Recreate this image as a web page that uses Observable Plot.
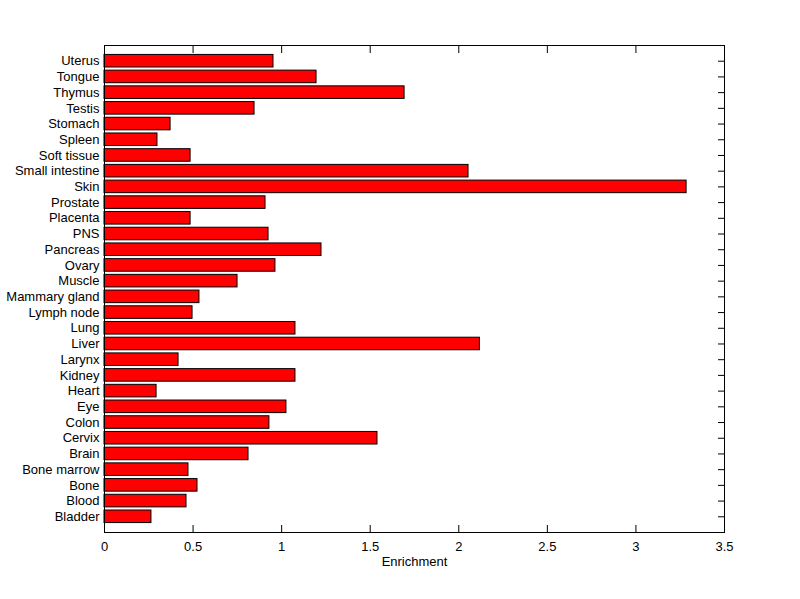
<!DOCTYPE html>
<html>
<head>
<meta charset="utf-8">
<script src="https://cdn.jsdelivr.net/npm/d3@7"></script>
<script src="https://cdn.jsdelivr.net/npm/@observablehq/plot@0.6"></script>
<style>
  html, body { margin: 0; padding: 0; background: #fff; }
  #chart svg { display: block; }
</style>
</head>
<body>
<div id="chart"></div>
<script>
const tissues = ["Bladder","Blood","Bone","Bone marrow","Brain","Cervix","Colon","Eye","Heart","Kidney","Larynx","Liver","Lung","Lymph node","Mammary gland","Muscle","Ovary","Pancreas","PNS","Placenta","Prostate","Skin","Small intestine","Soft tissue","Spleen","Stomach","Testis","Thymus","Tongue","Uterus"];
const enrichment = [0.265,0.463,0.525,0.474,0.813,1.541,0.931,1.027,0.294,1.078,0.418,2.119,1.078,0.497,0.536,0.751,0.965,1.225,0.926,0.486,0.909,3.286,2.055,0.486,0.299,0.373,0.847,1.694,1.197,0.954];
const xTicks = [0,0.5,1,1.5,2,2.5,3,3.5];
const xLabel = "Enrichment";

const data = tissues.map((t, i) => ({tissue: t, value: enrichment[i]}));
const font = "'Liberation Sans', Arial, sans-serif";

const chart = Plot.plot({
  width: 800,
  height: 599,
  marginLeft: 104,
  marginRight: 76,
  marginTop: 45,
  marginBottom: 67,
  style: {fontFamily: font, fontSize: "13px", color: "black", background: "white"},
  x: {domain: [0, 3.5], ticks: xTicks},
  y: {domain: tissues.slice().reverse(), paddingInner: 0.2, paddingOuter: 0.6, round: false},
  marks: [
    Plot.barX(data, {x: "value", y: "tissue", fill: "#ff0000", stroke: "black", strokeWidth: 1}),
    Plot.frame({stroke: "black", strokeWidth: 1}),
    // inward tick marks
    Plot.axisX({anchor: "bottom", ticks: xTicks, tickSize: -7, tickFormat: () => "", label: null}),
    Plot.axisX({anchor: "top", ticks: xTicks, tickSize: -7, tickFormat: () => "", label: null}),
    Plot.axisY({anchor: "right", tickSize: -7, tickFormat: () => "", label: null}),
    // tick labels
    Plot.axisX({anchor: "bottom", ticks: xTicks, tickSize: 0, tickPadding: 9, tickFormat: d => String(d), label: xLabel, labelAnchor: "center", labelArrow: "none", labelOffset: 33, fontSize: 13}),
    Plot.axisY({anchor: "left", tickSize: 0, tickPadding: 5, label: null, fontSize: 13})
  ]
});
document.getElementById("chart").appendChild(chart);
</script>
</body>
</html>
